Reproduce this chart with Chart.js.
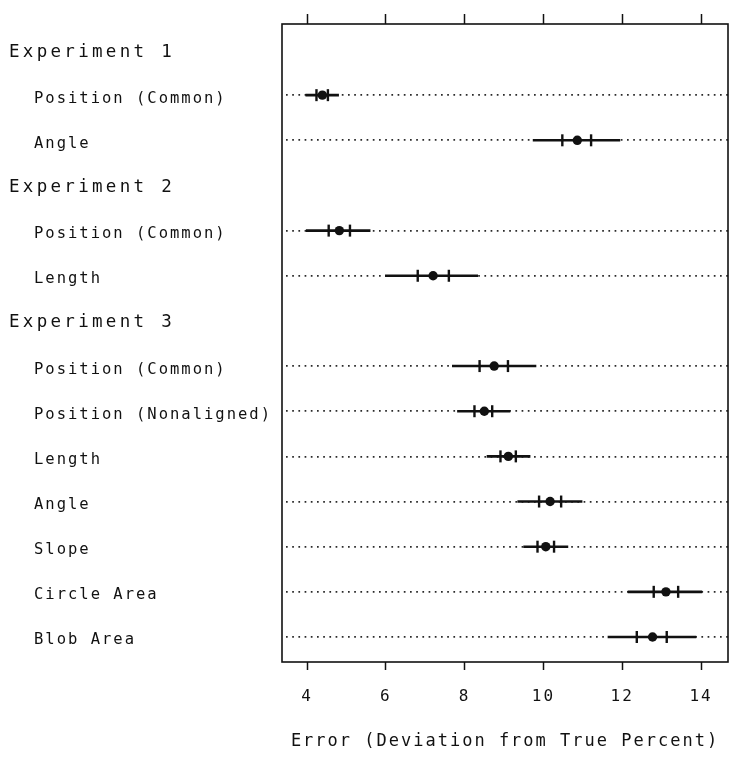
<!DOCTYPE html>
<html>
<head>
<meta charset="utf-8">
<title>Error (Deviation from True Percent)</title>
<script src="https://cdn.jsdelivr.net/npm/chart.js@4.4.1/dist/chart.umd.min.js"></script>
<style>
  html, body { margin: 0; padding: 0; background: #fff; }
  #wrap { position: relative; width: 746px; height: 760px; }
</style>
</head>
<body>
<div id="wrap"><canvas id="chart"></canvas></div>
<script>
/* ---------- data ---------- */
const rowLabels = [
  'Experiment 1', 'Position (Common)', 'Angle',
  'Experiment 2', 'Position (Common)', 'Length',
  'Experiment 3', 'Position (Common)', 'Position (Nonaligned)', 'Length',
  'Angle', 'Slope', 'Circle Area', 'Blob Area'
];
const headerRows = [0, 3, 6];

// null on the experiment header rows
const means   = [null, 4.39, 10.86, null, 4.82, 7.20, null, 8.75, 8.50, 9.11, 10.17, 10.06, 13.11, 12.77];
const innerLo = [null, 4.24, 10.48, null, 4.55, 6.81, null, 8.38, 8.25, 8.91, 9.89, 9.85, 12.80, 12.37];
const innerHi = [null, 4.53, 11.21, null, 5.09, 7.60, null, 9.10, 8.70, 9.30, 10.45, 10.27, 13.42, 13.13];
const outerLo = [null, 3.96, 9.73, null, 3.97, 5.98, null, 7.68, 7.81, 8.56, 9.34, 9.49, 12.14, 11.63];
const outerHi = [null, 4.81, 11.95, null, 5.61, 8.34, null, 9.82, 9.16, 9.67, 10.99, 10.63, 14.03, 13.88];

const xTicks = [4, 6, 8, 10, 12, 14];
const xTitle = 'Error (Deviation from True Percent)';

/* ---------- chart ---------- */
const ink = '#111';
const mono = '"DejaVu Sans Mono", "Liberation Mono", monospace';
const isHeader = i => headerRows.includes(i);

const rows = rowLabels.map((_, i) => i).filter(i => !isHeader(i));

// one short line per row for the outer interval
const rangeSets = rows.map(i => ({
  type: 'line',
  data: [{ x: outerLo[i], y: i }, { x: outerHi[i], y: i }],
  borderColor: ink,
  borderWidth: 2.6,
  pointRadius: 0,
  order: 3
}));

const tickSet = {
  type: 'scatter',
  data: rows.flatMap(i => [{ x: innerLo[i], y: i }, { x: innerHi[i], y: i }]),
  pointStyle: 'line',
  rotation: 90,
  pointRadius: 6,
  borderColor: ink,
  borderWidth: 2.4,
  order: 2
};

const meanSet = {
  type: 'scatter',
  data: rows.map(i => ({ x: means[i], y: i })),
  pointRadius: 4.7,
  backgroundColor: ink,
  borderColor: ink,
  borderWidth: 0,
  order: 1
};

const framePlugin = {
  id: 'frameAndRowLabels',
  beforeDraw(chart) {
    chart.ctx.letterSpacing = '2px';
  },
  beforeDatasetsDraw(chart) {
    const { ctx, chartArea: a } = chart;
    ctx.save();
    ctx.strokeStyle = ink;
    ctx.lineWidth = 1.6;
    ctx.strokeRect(a.left, a.top, a.right - a.left, a.bottom - a.top);
    ctx.restore();
  },
  afterDraw(chart) {
    const { ctx } = chart;
    const y = chart.scales.y;
    ctx.save();
    ctx.fillStyle = ink;
    ctx.textBaseline = 'alphabetic';
    rowLabels.forEach((label, i) => {
      const head = isHeader(i);
      ctx.font = (head ? '17.5px ' : '15.5px ') + mono;
      ctx.letterSpacing = head ? '3.3px' : '2px';
      ctx.fillText(label, head ? 9 : 34, y.getPixelForValue(i) + (head ? 6.5 : 7.5));
    });
    ctx.restore();
  }
};

new Chart(document.getElementById('chart'), {
  data: { datasets: [...rangeSets, tickSet, meanSet] },
  options: {
    responsive: true,
    maintainAspectRatio: false,
    animation: false,
    layout: { padding: { left: 0, right: 18, top: 0, bottom: 0 } },
    plugins: { legend: { display: false }, tooltip: { enabled: false } },
    scales: {
      x: {
        type: 'linear',
        position: 'bottom',
        min: 3.365,
        max: 14.685,
        afterBuildTicks: s => { s.ticks = xTicks.map(v => ({ value: v })); },
        afterFit: s => { s.height = 98; },
        grid: { drawOnChartArea: false, drawTicks: true, tickLength: 8, tickWidth: 1.5, tickColor: ink },
        border: { display: false },
        ticks: { color: ink, padding: 17, font: { family: mono, size: 16 } },
        title: {
          display: true,
          text: xTitle,
          color: ink,
          font: { family: mono, size: 17 },
          padding: { top: 4, bottom: 8 }
        }
      },
      x2: {
        type: 'linear',
        axis: 'x',
        position: 'top',
        min: 3.365,
        max: 14.685,
        afterBuildTicks: s => { s.ticks = xTicks.map(v => ({ value: v })); },
        afterFit: s => { s.height = 24; },
        grid: { drawOnChartArea: false, drawTicks: true, tickLength: 10, tickWidth: 1.5, tickColor: ink },
        border: { display: false },
        ticks: { display: false }
      },
      y: {
        type: 'linear',
        reverse: true,
        min: -0.576,
        max: 13.554,
        afterBuildTicks: s => { s.ticks = rowLabels.map((_, i) => ({ value: i })); },
        afterFit: s => { s.width = 282; },
        grid: {
          drawTicks: false,
          lineWidth: 1.7,
          color: c => (c.tick && isHeader(c.tick.value)) ? 'rgba(0,0,0,0)' : '#2a2a2a'
        },
        border: { display: false, dash: [1.7, 4.5], dashOffset: -4 },
        ticks: { display: false }
      }
    }
  },
  plugins: [framePlugin]
});
</script>
</body>
</html>
